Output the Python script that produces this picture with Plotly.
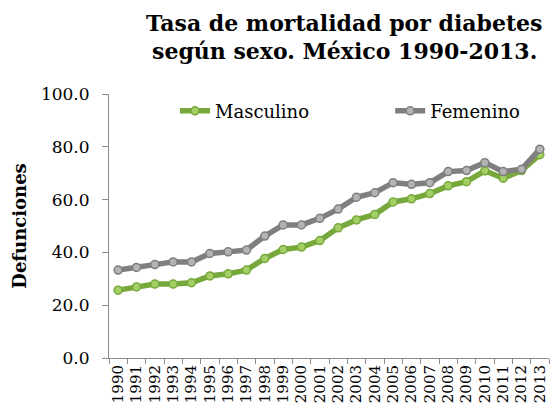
import plotly.graph_objects as go

years = [str(y) for y in range(1990, 2014)]
masculino = [25.7, 26.9, 28.0, 28.0, 28.5, 31.1, 31.9, 33.3, 37.7, 41.1, 42.0, 44.5,
             49.3, 52.3, 54.4, 59.1, 60.3, 62.3, 65.2, 66.8, 70.9, 68.1, 71.0, 77.0]
femenino = [33.3, 34.3, 35.4, 36.4, 36.4, 39.6, 40.2, 40.9, 46.2, 50.4, 50.4, 52.9,
            56.4, 60.9, 62.6, 66.4, 65.8, 66.4, 70.6, 71.0, 74.0, 70.6, 71.5, 79.1]
y_ticks = [0, 20, 40, 60, 80, 100]
y_ticklabels = ["0.0", "20.0", "40.0", "60.0", "80.0", "100.0"]
title_lines = ["Tasa de mortalidad por diabetes", "según sexo. México 1990-2013."]

SERIF = "DejaVu Serif"

fig = go.Figure()
fig.add_trace(go.Scatter(
    x=years, y=masculino, name="Masculino", mode="lines+markers", legend="legend",
    line=dict(color="#77A83C", width=5.5),
    marker=dict(symbol="circle", size=8, color="#A4CF66",
                line=dict(color="#77A83C", width=1.5)),
))
fig.add_trace(go.Scatter(
    x=years, y=femenino, name="Femenino", mode="lines+markers", legend="legend2",
    line=dict(color="#7F7F7F", width=5.5),
    marker=dict(symbol="circle", size=8, color="#B3B3B3",
                line=dict(color="#7F7F7F", width=1.5)),
))

# title as two centered text lines above the plot (plot area spans y 94..358 px)
for txt, ypx in zip(title_lines, [23, 51]):
    fig.add_annotation(text=f"<b>{txt}</b>", xref="paper", yref="paper",
                       x=(344 - 109) / 440, y=(358 - ypx) / 264,
                       xanchor="center", yanchor="middle", showarrow=False,
                       font=dict(family=SERIF, size=22, color="black"))

legend_style = dict(orientation="h", y=0.935, xanchor="left", yanchor="middle",
                    font=dict(family=SERIF, size=18, color="black"),
                    bgcolor="rgba(0,0,0,0)")

fig.update_layout(
    width=553, height=414,
    margin=dict(l=109, r=4, t=94, b=56),
    paper_bgcolor="white", plot_bgcolor="white",
    showlegend=True,
    legend=dict(x=0.15, **legend_style),
    legend2=dict(x=0.639, **legend_style),
    xaxis=dict(type="category", range=[-0.5, 23.5], showgrid=False,
               showline=True, linecolor="#8C8C8C", linewidth=1,
               ticks="outside", ticklen=5, tickcolor="#8C8C8C", tickson="boundaries",
               tickangle=-90, tickfont=dict(family=SERIF, size=15, color="black")),
    yaxis=dict(range=[0, 100], tickvals=y_ticks, ticktext=y_ticklabels,
               showgrid=False, zeroline=False,
               showline=True, linecolor="#8C8C8C", linewidth=1,
               ticks="outside", ticklen=6, tickcolor="#8C8C8C",
               ticklabelstandoff=9,
               tickfont=dict(family=SERIF, size=17, color="black"),
               title=dict(text="<b>Defunciones</b>", standoff=9,
                          font=dict(family=SERIF, size=18, color="black"))),
)

fig.write_html("out.html", config={"displayModeBar": False},
               post_script="document.body.style.margin='0';")
